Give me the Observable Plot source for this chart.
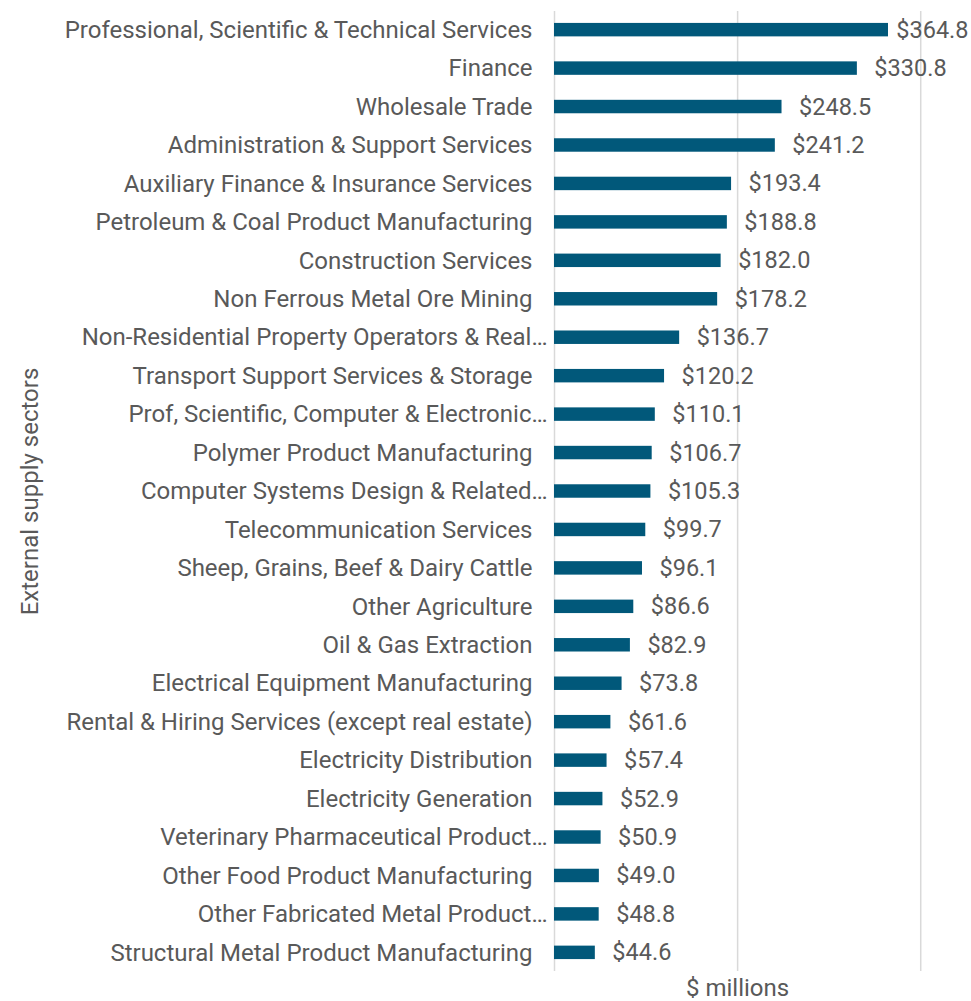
<!DOCTYPE html>
<html>
<head>
<meta charset="utf-8">
<script src="https://cdn.jsdelivr.net/npm/d3@7"></script>
<script src="https://cdn.jsdelivr.net/npm/@observablehq/plot@0.6"></script>
<style>
  html, body { margin: 0; padding: 0; background: #fff; }
  #chart { width: 971px; height: 1001px; }
</style>
</head>
<body>
<div id="chart"></div>
<script>
const sectors = [
  "Professional, Scientific & Technical Services",
  "Finance",
  "Wholesale Trade",
  "Administration & Support Services",
  "Auxiliary Finance & Insurance Services",
  "Petroleum & Coal Product Manufacturing",
  "Construction Services",
  "Non Ferrous Metal Ore Mining",
  "Non-Residential Property Operators & Real…",
  "Transport Support Services & Storage",
  "Prof, Scientific, Computer & Electronic…",
  "Polymer Product Manufacturing",
  "Computer Systems Design & Related…",
  "Telecommunication Services",
  "Sheep, Grains, Beef & Dairy Cattle",
  "Other Agriculture",
  "Oil & Gas Extraction",
  "Electrical Equipment Manufacturing",
  "Rental & Hiring Services (except real estate)",
  "Electricity Distribution",
  "Electricity Generation",
  "Veterinary Pharmaceutical Product…",
  "Other Food Product Manufacturing",
  "Other Fabricated Metal Product…",
  "Structural Metal Product Manufacturing"
];
const values = [364.8, 330.8, 248.5, 241.2, 193.4, 188.8, 182.0, 178.2, 136.7, 120.2,
  110.1, 106.7, 105.3, 99.7, 96.1, 86.6, 82.9, 73.8, 61.6, 57.4, 52.9, 50.9, 49.0, 48.8, 44.6];
const gridValues = [0, 200, 400];
const xTitle = "$ millions";
const yTitle = "External supply sectors";

const data = sectors.map((s, i) => ({sector: s, value: values[i], truncated: s.endsWith("…")}));
const fmt = v => "$" + v.toFixed(1);
const maxV = d3.max(values);

const chart = Plot.plot({
  width: 971,
  height: 1001,
  marginLeft: 554,
  marginRight: 5,
  marginTop: 11,
  marginBottom: 30,
  style: {fontFamily: "Roboto, sans-serif", fontSize: "24px", color: "#595959", background: "#fff", overflow: "visible"},
  x: {domain: [0, 450], axis: null},
  y: {domain: sectors, axis: null, paddingInner: 0.65, paddingOuter: 0.31, round: false},
  marks: [
    Plot.ruleX(gridValues, {stroke: "#d9d9d9", strokeWidth: 1.5}),
    Plot.barX(data, {y: "sector", x: "value", fill: "#01587a"}),
    Plot.text(data.filter(d => !d.truncated), {y: "sector", text: "sector", frameAnchor: "left", textAnchor: "end", dx: -22, fontSize: 24}),
    Plot.text(data.filter(d => d.truncated), {y: "sector", text: "sector", frameAnchor: "left", textAnchor: "end", dx: -7, fontSize: 24}),
    Plot.text(data.filter(d => d.value < maxV), {y: "sector", x: "value", text: d => fmt(d.value), textAnchor: "start", dx: 17, fontSize: 23.5}),
    Plot.text(data.filter(d => d.value === maxV), {y: "sector", text: d => fmt(d.value), frameAnchor: "right", textAnchor: "end", dx: 2, fontSize: 23.5}),
    Plot.text([yTitle], {text: d => d, frameAnchor: "left", textAnchor: "middle", dx: -524, rotate: -90, fontSize: 24}),
    Plot.text([xTitle], {text: d => d, x: () => 200, frameAnchor: "bottom", dy: 24, fontSize: 24})
  ]
});
document.getElementById("chart").append(chart);
</script>
</body>
</html>
